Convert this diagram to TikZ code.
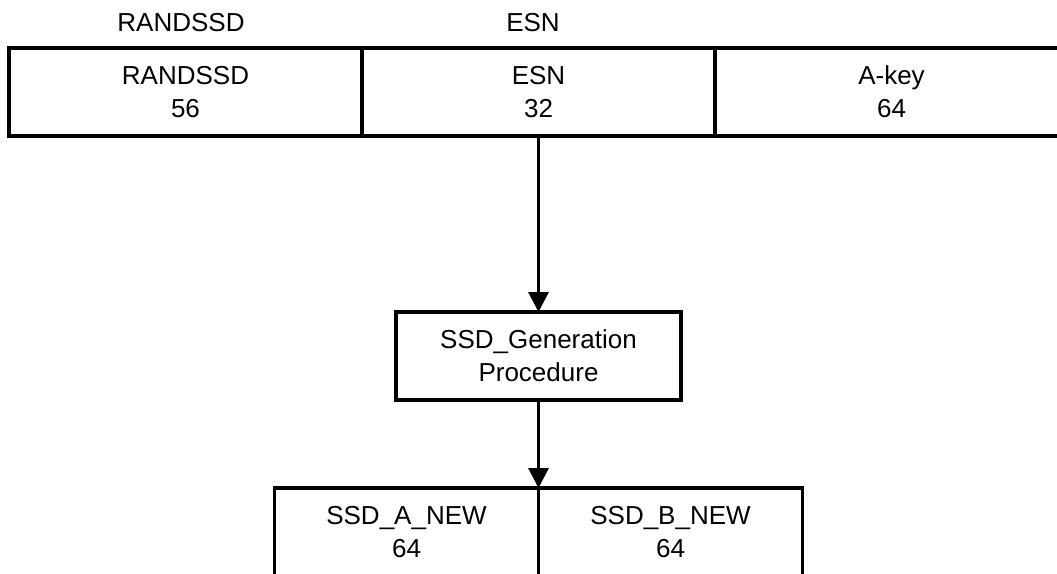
\documentclass[tikz,border=0pt]{standalone}
\usepackage{fontspec}
\setmainfont{Liberation Sans}
\usetikzlibrary{arrows.meta}
\tikzset{
  txt/.style={font=\fontsize{26}{33}\selectfont, inner sep=0pt, align=center},
  cell/.style={txt, draw, line width=3.2pt, rectangle, outer sep=0pt, minimum height=88pt},
  topcell/.style={cell, minimum width=353pt},
  botcell/.style={cell, minimum width=264pt},
  genbox/.style={cell, minimum width=285pt},
  flow/.style={line width=3.2pt, -{Triangle[width=20pt,length=20pt]}}
}
\begin{document}
\begin{tikzpicture}[x=1pt,y=-1pt]
\useasboundingbox (0,0) rectangle (1057,573);
\begin{scope}
\clip (0,0) rectangle (1057,573);
\node[txt] (lrand) at (181,23) {RANDSSD};
\node[txt] (lesn) at (533,23) {ESN};
\node[topcell] (rand) at (185.5,92) {RANDSSD\\56};
\node[topcell] (esn) at (538.5,92) {ESN\\32};
\node[topcell] (akey) at (891.5,92) {A-key\\64};
\node[genbox] (gen) at (538.5,356) {SSD\_Generation\\Procedure};
\node[botcell] (sa) at (406.5,532) {SSD\_A\_NEW\\64};
\node[botcell] (sb) at (670.5,532) {SSD\_B\_NEW\\64};
\coordinate (join) at (sa.north east);
\draw[flow] (esn.south) -- (gen.north);
\draw[flow] (gen.south) -- (join);
\end{scope}
\end{tikzpicture}
\end{document}
